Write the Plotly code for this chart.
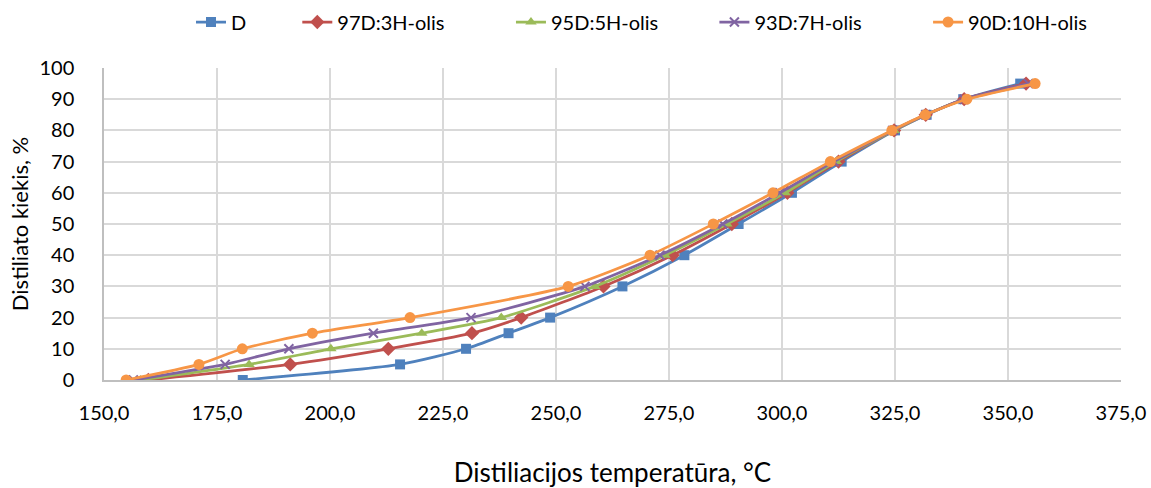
import plotly.graph_objects as go

# distillate amount (%)
y_levels = [0, 5, 10, 15, 20, 30, 40, 50, 60, 70, 80, 85, 90, 95]

# distillation temperatures (°C) per blend
t_D    = [180.7, 215.5, 230.1, 239.5, 248.7, 264.7, 278.4, 290.4, 302.2, 313.2, 325.0, 332.0, 340.1, 352.7]
t_97_3 = [159.8, 191.2, 212.9, 231.4, 242.3, 260.5, 275.8, 288.9, 301.2, 312.5, 324.8, 331.8, 340.3, 354.0]
t_95_5 = [158.1, 182.1, 200.2, 220.3, 237.9, 258.6, 274.1, 287.8, 300.7, 312.0, 324.8, 331.8, 340.5, 355.5]
t_93_7 = [156.5, 176.8, 190.9, 209.6, 231.2, 256.4, 273.0, 286.9, 299.5, 311.5, 324.5, 331.8, 340.3, 354.5]
t_90_10 = [154.9, 171.0, 180.6, 196.1, 217.7, 252.7, 270.8, 284.8, 298.0, 310.7, 324.3, 331.7, 340.9, 356.0]

series_names = ["D", "97D:3H-olis", "95D:5H-olis", "93D:7H-olis", "90D:10H-olis"]
series_x = [t_D, t_97_3, t_95_5, t_93_7, t_90_10]
colors = ["#4F81BD", "#C0504D", "#9BBB59", "#8064A2", "#F79646"]
symbols = ["square", "diamond", "triangle-up", "x-thin", "circle"]
sizes = [10, 11, 10, 9, 11]
legend_pad = [9, 12, 10, 12, 0]

x_ticks = [150, 175, 200, 225, 250, 275, 300, 325, 350, 375]
x_tick_labels = ["150,0", "175,0", "200,0", "225,0", "250,0", "275,0", "300,0", "325,0", "350,0", "375,0"]
y_ticks = [0, 10, 20, 30, 40, 50, 60, 70, 80, 90, 100]

FONT = "Lato"

fig = go.Figure()
for name, xs, c, s, sz, pad in zip(series_names, series_x, colors, symbols, sizes, legend_pad):
    marker = dict(symbol=s, size=sz, color=c)
    if s == "x-thin":
        marker["line"] = dict(color=c, width=2)
    fig.add_trace(go.Scatter(
        x=xs, y=y_levels, name=name + "\u00a0" * pad, mode="lines+markers",
        line=dict(color=c, width=2.75, shape="spline", smoothing=0.6),
        marker=marker,
    ))

fig.update_layout(
    width=1151, height=488,
    paper_bgcolor="white", plot_bgcolor="white",
    margin=dict(l=104, r=30, t=67.5, b=107.5, autoexpand=False),
    font=dict(family=FONT, size=20, color="#000000"),
    legend=dict(orientation="h", x=191 / 1151, xanchor="left", xref="container",
                y=1 - 22 / 488, yanchor="middle", yref="container",
                font=dict(family=FONT, size=20), itemwidth=30),
    showlegend=True,
)

fig.update_xaxes(
    range=[150, 375], tickvals=x_ticks, ticktext=x_tick_labels,
    showgrid=True, gridcolor="#D9D9D9", gridwidth=1.5,
    showline=True, linecolor="#BFBFBF", linewidth=1.5,
    zeroline=False, ticks="", ticklabelstandoff=14,
    tickfont=dict(family=FONT, size=20),
    title=dict(text="Distiliacijos temperatūra, °C", font=dict(family=FONT, size=26), standoff=42),
)
fig.update_yaxes(
    range=[0, 100], tickvals=y_ticks,
    showgrid=True, gridcolor="#D9D9D9", gridwidth=1.5,
    showline=True, linecolor="#BFBFBF", linewidth=1.5,
    zeroline=False, ticks="", ticklabelstandoff=24,
    tickfont=dict(family=FONT, size=20),
    title=dict(text="Distiliato kiekis, %", font=dict(family=FONT, size=22), standoff=5),
)

fig.write_html("out.html", config={"displayModeBar": False},
               post_script="document.body.style.margin='0';document.body.style.overflow='hidden';")
